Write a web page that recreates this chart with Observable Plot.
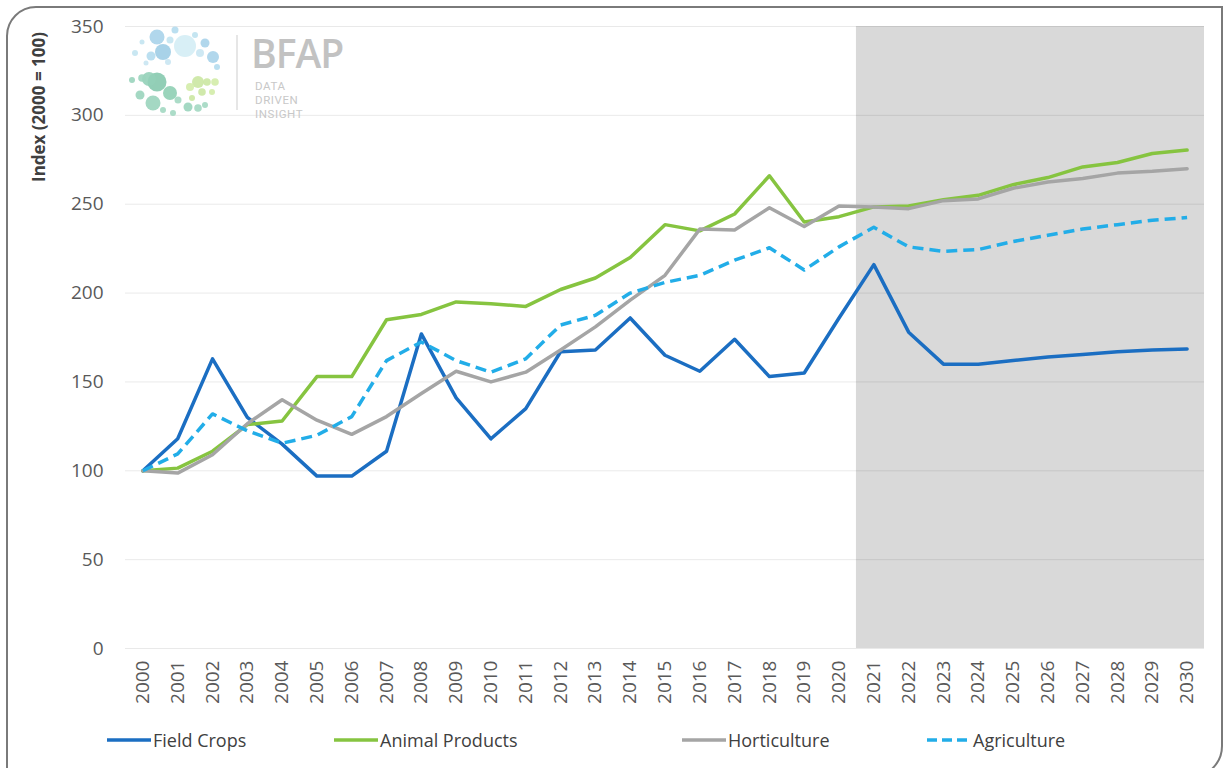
<!DOCTYPE html>
<html>
<head>
<meta charset="utf-8">
<script src="https://cdn.jsdelivr.net/npm/d3@7"></script>
<script src="https://cdn.jsdelivr.net/npm/@observablehq/plot@0.6"></script>
<style>
  html, body { margin: 0; padding: 0; background: #fff; }
  #wrap { position: relative; width: 1230px; height: 768px; overflow: hidden; font-family: "Open Sans", sans-serif; }
  #frame { position: absolute; left: 6px; top: 6px; width: 1217px; border: 2px solid #7a7a7a; border-radius: 30px 0 32px 0; box-sizing: border-box; height: 772px; }
  #chart { position: absolute; left: 0; top: 0; }
  #ylabel { position: absolute; left: 38px; top: 107px; transform: translate(-50%, -50%) rotate(-90deg); font-weight: 700; font-size: 17px; color: #404040; white-space: nowrap; }
  #logo { position: absolute; left: 0; top: 0; pointer-events: none; }
  #legend { position: absolute; left: 0; top: 722px; width: 1230px; height: 36px; }
  .item { position: absolute; top: 0; height: 36px; display: flex; align-items: center; font-size: 18px; color: #404040; white-space: nowrap; }
  .item svg { margin-right: 2px; }
</style>
</head>
<body>
<div id="wrap">
  <div id="chart"></div>
  <svg id="logo" width="360" height="130"></svg>
  <div id="ylabel">Index (2000 = 100)</div>
  <div id="legend"></div>
  <div id="frame"></div>
</div>
<script>
// ---- data ----
const years = [2000,2001,2002,2003,2004,2005,2006,2007,2008,2009,2010,2011,2012,2013,2014,2015,2016,2017,2018,2019,2020,2021,2022,2023,2024,2025,2026,2027,2028,2029,2030];
const projectionYears = [2021, 2030];
const yTicks = [0, 50, 100, 150, 200, 250, 300, 350];

const fieldCrops    = [100,118,163,130,115,97,97,111,177,141,118,135,167,168,186,165,156,174,153,155,186,216,178,160,160,162,164,165.5,167,168,168.5];
const animalProducts= [100,101.5,111,126,128,153,153,185,188,195,194,192.5,202,208.5,220,238.5,235,244.5,266,240,243,248.5,249,252.5,255,261,265,271,273.5,278.5,280.5];
const horticulture  = [100,98.7,109,126.5,140,128.5,120.5,130.5,143.5,156,150,155.5,168,181,196,210,236,235.5,248,237.5,249,248.5,247.5,252,253,259,262.5,264.5,267.5,268.5,270];
const agriculture   = [100,109.5,132,122.5,115.5,120,130.5,162,172.5,162,155.5,163,182,187.5,200,206,210,218.5,225.5,213,226,237,226,223.5,224.5,229,232.5,236,238.5,241,242.5];

const seriesNames = ["Field Crops", "Animal Products", "Horticulture", "Agriculture"];
const seriesValues = [fieldCrops, animalProducts, horticulture, agriculture];
const seriesColors = ["#1b6ec2", "#86c440", "#a5a5a5", "#22ade8"];
const seriesDash = [null, null, null, "11,6"];

// ---- build table ----
const rows = [];
seriesNames.forEach((name, s) => {
  years.forEach((yr, i) => rows.push({ series: name, year: yr, value: seriesValues[s][i] }));
});
const band = [{ x1: projectionYears[0] - 0.5, x2: projectionYears[1] + 0.5 }];

const marks = [
  Plot.rectY(band, { x1: "x1", x2: "x2", y1: 0, y2: 350, fill: "#d9d9d9" }),
  Plot.gridY(yTicks, { stroke: "#000", strokeOpacity: 0.085, strokeWidth: 1 }),
  Plot.axisY(yTicks, { tickSize: 0, tickPadding: 22, fontSize: 19, fill: "#595959" }),
  Plot.axisX(years, { tickSize: 0, tickPadding: 12, tickRotate: -90, fontSize: 19, fill: "#595959", tickFormat: d => String(d) })
];
seriesNames.forEach((name, s) => {
  marks.push(Plot.line(rows.filter(r => r.series === name), {
    x: "year", y: "value",
    stroke: seriesColors[s], strokeWidth: 3.5,
    strokeDasharray: seriesDash[s] || undefined,
    strokeLinecap: seriesDash[s] ? "butt" : "round",
    strokeLinejoin: "round"
  }));
});

const chart = Plot.plot({
  width: 1230, height: 720,
  marginLeft: 125, marginRight: 26, marginTop: 26, marginBottom: 72,
  x: { domain: [years[0] - 0.5, years[years.length - 1] + 0.5], label: null, axis: null },
  y: { domain: [0, 350], label: null, axis: null },
  style: { fontFamily: "Open Sans, sans-serif", background: "transparent", color: "#595959" },
  marks
});
document.getElementById("chart").appendChild(chart);

// ---- legend ----
const legendLeft = [107, 334, 682, 927];
const legend = document.getElementById("legend");
seriesNames.forEach((name, s) => {
  const div = document.createElement("div");
  div.className = "item";
  div.style.left = legendLeft[s] + "px";
  const dash = seriesDash[s] ? `stroke-dasharray="10,5"` : "";
  div.innerHTML = `<svg width="44" height="10"><line x1="0" y1="5" x2="44" y2="5" stroke="${seriesColors[s]}" stroke-width="3.5" ${dash}/></svg>${name}`;
  legend.appendChild(div);
});

// ---- decorative logo ----
const logoDots = [
  [185,46,11,"#d4edf5"],[157,37,7.5,"#a9d3ea"],[163,52,8,"#9fcde6"],[151,56,4.5,"#b4dbee"],[175,30,3.5,"#b4dbee"],
  [195,35,3,"#bfe2f0"],[205,43,4.5,"#a9d3ea"],[213,57,6,"#a9d3ea"],[217,67,3,"#b4dbee"],[135,53,3,"#c3e4f1"],
  [142,42,2.5,"#c3e4f1"],[200,53,4,"#c9e6f2"],[170,40,3.5,"#c3e4f1"],[146,63,2.5,"#c9e6f2"],[168,62,3,"#c9e6f2"],
  [157,82,9.5,"#86c9ae"],[149,79,7,"#93d0b8"],[170,93,7,"#8fcfb4"],[153,103,7.5,"#9ad4bc"],[140,95,4.5,"#9ad4bc"],
  [132,80,3,"#9ad4bc"],[142,78,3.8,"#9ad4bc"],[163,110,3,"#a3d8c2"],[173,113,3,"#a3d8c2"],[188,107,4.5,"#9ad4bc"],
  [198,108,3.8,"#a3d8c2"],[205,105,3,"#a3d8c2"],[178,100,3.5,"#a3d8c2"],
  [198,82,6,"#cbe7a2"],[190,87,4,"#d3eca8"],[207,82,3.8,"#cbe7a2"],[215,82,3.8,"#d3eca8"],[202,92,3.8,"#cbe7a2"],
  [212,92,3,"#d3eca8"],[192,98,3,"#cbe7a2"]
];
const logo = d3.select("#logo");
logo.selectAll("circle").data(logoDots).join("circle")
  .attr("cx", d => d[0]).attr("cy", d => d[1]).attr("r", d => d[2]).attr("fill", d => d[3]).attr("opacity", 0.9);
logo.append("line").attr("x1", 237).attr("x2", 237).attr("y1", 35).attr("y2", 110).attr("stroke", "#dedede").attr("stroke-width", 1.5);
logo.append("text").attr("x", 251).attr("y", 68).text("BFAP")
  .attr("font-family", "Open Sans, sans-serif").attr("font-weight", 600).attr("font-size", 39).attr("letter-spacing", -1).attr("fill", "#c2c2c2");
["DATA", "DRIVEN", "INSIGHT"].forEach((t, i) => {
  logo.append("text").attr("x", 255).attr("y", 90 + i * 14).text(t)
    .attr("font-family", "Roboto, sans-serif").attr("font-size", 11.5).attr("letter-spacing", 0.6).attr("fill", "#c8c8c8");
});
</script>
</body>
</html>
